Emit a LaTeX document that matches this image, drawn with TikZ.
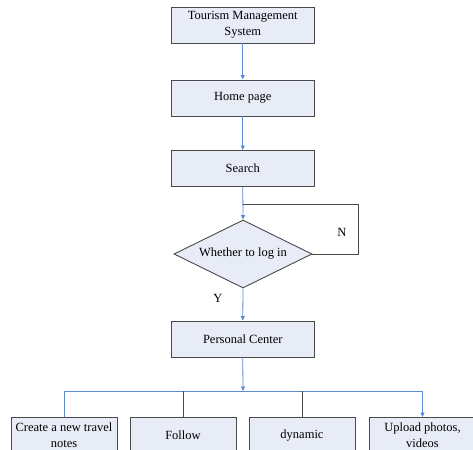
\documentclass[tikz,border=0pt]{standalone}
\usepackage{fontspec}
\setmainfont{Liberation Serif}
\usetikzlibrary{shapes.geometric,arrows.meta}
\definecolor{boxfill}{HTML}{E7ECF6}
\definecolor{boxline}{HTML}{4A4A4A}
\definecolor{flow}{HTML}{5B8BD0}
\begin{document}
\begin{tikzpicture}[x=1pt,y=-1pt,
  txt/.style={font=\fontsize{12.5}{16}\selectfont},
  box/.style={txt,draw=boxline,fill=boxfill,line width=0.9pt,minimum width=142.5pt,minimum height=36pt,inner sep=0pt,align=center},
  sbox/.style={box,minimum width=106pt,minimum height=36pt},
  dec/.style={txt,diamond,aspect=2,draw=boxline,fill=boxfill,line width=0.9pt,minimum width=138pt,minimum height=68pt,inner sep=0pt},
  arr/.style={draw=flow,line width=0.8pt,-{Triangle[length=4.5pt,width=4pt]}},
  fline/.style={draw=flow,line width=0.8pt},
  dline/.style={draw=boxline,line width=0.8pt}]
\useasboundingbox (0,0) rectangle (473,449);
\clip (0,0) rectangle (473,449);
\fill[white] (0,0) rectangle (473,449);
% main column
\node[box] (tms) at (242.75,25) {Tourism Management\\System};
\node[box] (home) at (242.75,98) {Home page};
\node[box] (search) at (242.75,168.5) {Search};
\node[dec] (login) at (243,254) {Whether to log in};
\node[box] (pc) at (242.75,339) {Personal Center};
% bottom row
\node[sbox] (b1) at (64,435.5) {Create a new travel\\notes};
\node[sbox] (b2) at (183,435.5) {Follow};
\node[sbox] (b3) at (302,435.5) {dynamic};
\node[sbox] (b4) at (422.5,435.5) {Upload photos,\\videos};
% labels
\node[txt] (nlab) at (342,232) {N};
\node[txt] (ylab) at (218,298) {Y};
% coordinates
\coordinate (loopin) at (243,204);
\coordinate (loopr) at (358,204);
\coordinate (loopb) at (358,254);
\coordinate (junc) at (243,391);
% connectors
\draw[arr] (tms.south) -- (home.north);
\draw[arr] (home.south) -- (search.north);
\draw[arr] (search.south) -- (login.north);
\draw[dline] (login.east) -- (loopb) -- (loopr) -- (loopin);
\draw[arr] (login.south) -- (pc.north);
\draw[arr] (pc.south) -- (junc);
\draw[fline] (b1.north) -- (b1.north |- junc) -- (b4.north |- junc);
\draw[dline] (b2.north |- junc) -- (b2.north);
\draw[dline] (b3.north |- junc) -- (b3.north);
\draw[arr] (b4.north |- junc) -- (b4.north);
\end{tikzpicture}
\end{document}
